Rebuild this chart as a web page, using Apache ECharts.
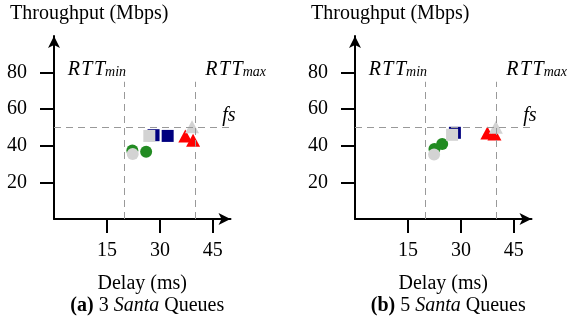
<!DOCTYPE html>
<html>
<head>
<meta charset="utf-8">
<script src="https://cdn.jsdelivr.net/npm/echarts@6/dist/echarts.min.js"></script>
<style>
  html, body { margin: 0; padding: 0; background: #fff; }
  #chart { width: 572px; height: 321px; }
</style>
</head>
<body>
<div id="chart"></div>
<script>
// 坐标轴刻度
const delayTicks = [15, 30, 45];
const tputTicks = [20, 40, 60, 80];
const rttMin = 20;
const rttMax = 40;
const fairShare = 50;
const refTop = 75; // 竖直虚线的顶端 (Mbps)

// (a) 3 Santa Queues  [delay ms, throughput Mbps]
const aGreen = [[22.2, 37.4], [26.1, 36.7]];
const aNavy = [[28.2, 45.8], [32.2, 45.4]];
const aRed = [[37.2, 45.3], [39.4, 43.1]];
const aGrayCircle = [[22.3, 35.5]];
const aGraySquare = [[27.0, 45.4]];
const aGrayTriangle = [[39.1, 50.4]];

// (b) 5 Santa Queues
const bGreen = [[22.5, 38.2], [24.7, 41.0]];
const bNavy = [[28.3, 47.1]];
const bRed = [[37.5, 47.0], [39.5, 46.4]];
const bGrayCircle = [[22.4, 35.3]];
const bGraySquare = [[27.5, 46.0]];
const bGrayTriangle = [[39.9, 50.2]];

const FONT = 'Liberation Serif';
const panels = [
    { left: 54, title: 'Throughput (Mbps)', tag: '(a)', n: '3',
      green: aGreen, navy: aNavy, red: aRed, gc: aGrayCircle, gs: aGraySquare, gt: aGrayTriangle },
    { left: 355, title: 'Throughput (Mbps)', tag: '(b)', n: '5',
      green: bGreen, navy: bNavy, red: bRed, gc: bGrayCircle, gs: bGraySquare, gt: bGrayTriangle }
];

let myChart = echarts.init(document.getElementById('chart'));

let grids = [], xAxes = [], yAxes = [], series = [];
panels.forEach(function (p, i) {
    grids.push({ left: p.left, top: 36, width: 176.5, height: 183 });
    xAxes.push({
        gridIndex: i, type: 'value', min: 0, max: 50,
        axisLine: { symbol: ['none', 'arrow'], symbolSize: [9, 12],
                    lineStyle: { color: '#000', width: 2 } },
        axisTick: { customValues: delayTicks, length: 14, lineStyle: { color: '#000', width: 2 } },
        axisLabel: { customValues: delayTicks, margin: 22, color: '#000', fontFamily: FONT, fontSize: 20 },
        splitLine: { show: false },
        name: 'Delay (ms)', nameLocation: 'middle', nameGap: 55,
        nameTextStyle: { color: '#000', fontFamily: FONT, fontSize: 20 }
    });
    yAxes.push({
        gridIndex: i, type: 'value', min: 0, max: 100,
        axisLine: { symbol: ['none', 'arrow'], symbolSize: [9, 12],
                    lineStyle: { color: '#000', width: 2 } },
        axisTick: { customValues: tputTicks, length: 14, lineStyle: { color: '#000', width: 2 } },
        axisLabel: { customValues: tputTicks, margin: 27, color: '#000', fontFamily: FONT, fontSize: 20 },
        splitLine: { show: false }
    });
    // 虚线参考线
    series.push({
        type: 'scatter', xAxisIndex: i, yAxisIndex: i, data: [], z: 1,
        markLine: {
            silent: true, symbol: 'none', label: { show: false },
            lineStyle: { color: '#999', width: 1, type: [7, 5] },
            data: [
                [{ coord: [rttMin, 0] }, { coord: [rttMin, refTop] }],
                [{ coord: [rttMax, 0] }, { coord: [rttMax, refTop] }],
                [{ coord: [0, fairShare] }, { coord: [50, fairShare] }]
            ]
        }
    });
    const mk = function (data, symbol, color, size) {
        return { type: 'scatter', xAxisIndex: i, yAxisIndex: i, data: data, z: 3,
                 symbol: symbol, symbolSize: size, itemStyle: { color: color, opacity: 1 } };
    };
    series.push(mk(p.green, 'circle', '#228b22', 12));
    series.push(mk(p.navy, 'rect', '#00007f', 12));
    series.push(mk(p.red, 'triangle', '#ff0000', [14, 13]));
    series.push(mk(p.gc, 'circle', '#d3d3d3', 12));
    series.push(mk(p.gs, 'rect', '#d3d3d3', 12));
    series.push(mk(p.gt, 'triangle', '#d3d3d3', [14, 13]));
});

let option = {
    backgroundColor: '#fff',
    animation: false,
    grid: grids,
    xAxis: xAxes,
    yAxis: yAxes,
    series: series
};
myChart.setOption(option);

// 文字标注：位置由坐标换算得到
let texts = [];
const rich = {
    r: { fontFamily: FONT, fontStyle: 'italic', fontSize: 20, lineHeight: 20, padding: [0, 1.5, 0, 0], fill: '#000' },
    i: { fontFamily: FONT, fontStyle: 'italic', fontSize: 20, lineHeight: 20, fill: '#000' },
    s: { fontFamily: FONT, fontStyle: 'italic', fontSize: 14, lineHeight: 6, verticalAlign: 'bottom', fill: '#000' },
    b: { fontFamily: FONT, fontWeight: 'bold', fontSize: 20, fill: '#000' },
    n: { fontFamily: FONT, fontSize: 20, fill: '#000' }
};
panels.forEach(function (p, i) {
    const pMin = myChart.convertToPixel({ gridIndex: i }, [rttMin, refTop]);
    const pMax = myChart.convertToPixel({ gridIndex: i }, [rttMax, refTop]);
    const pFs = myChart.convertToPixel({ gridIndex: i }, [50, fairShare]);
    const pO = myChart.convertToPixel({ gridIndex: i }, [25, 0]);
    texts.push({ type: 'text', x: pMin[0] + 1.5, y: pMin[1] - 2,
        style: { text: '{r|R}{r|T}{i|T}{s|min}', rich: rich, align: 'right', verticalAlign: 'bottom' } });
    texts.push({ type: 'text', x: pMax[0] + 10, y: pMax[1] - 2,
        style: { text: '{r|R}{r|T}{i|T}{s|max}', rich: rich, align: 'left', verticalAlign: 'bottom' } });
    texts.push({ type: 'text', x: pFs[0] + 5, y: pFs[1] - 2,
        style: { text: '{i|fs}', rich: rich, align: 'right', verticalAlign: 'bottom' } });
    texts.push({ type: 'text', x: p.left - 44, y: 4,
        style: { text: p.title, fontFamily: FONT, fontSize: 20, fill: '#000', align: 'left', verticalAlign: 'top' } });
    texts.push({ type: 'text', x: pO[0] + 5, y: 306,
        style: { text: '{b|' + p.tag + '}{n| ' + p.n + ' }{i|Santa}{n| Queues}', rich: rich,
                 align: 'center', verticalAlign: 'middle' } });
});
myChart.setOption({ graphic: texts });
</script>
</body>
</html>
